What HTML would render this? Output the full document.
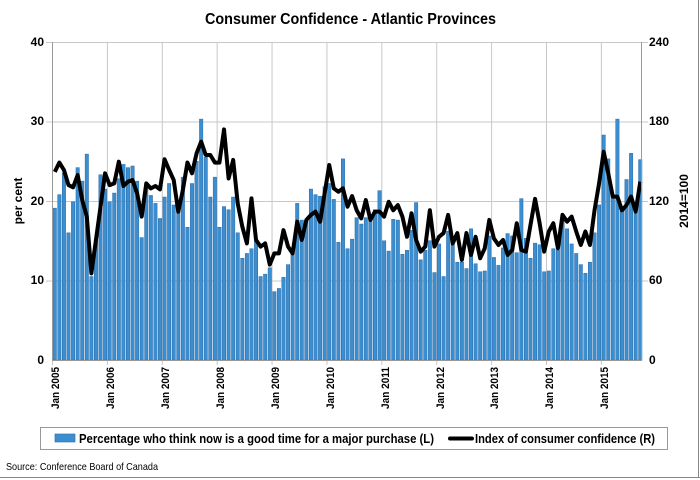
<!DOCTYPE html>
<html><head><meta charset="utf-8"><style>
html,body{margin:0;padding:0;background:#fff}
svg{display:block;font-family:"Liberation Sans",sans-serif}
</style></head><body>
<svg id="s" width="700" height="480" viewBox="0 0 700 480" xmlns="http://www.w3.org/2000/svg">
<rect x="0" y="0" width="700" height="480" fill="#fff"/>
<line x1="0" y1="477.5" x2="700" y2="477.5" stroke="#888" stroke-width="1"/>
<line x1="698.5" y1="0" x2="698.5" y2="478" stroke="#888" stroke-width="1"/>
<text x="205" y="24" font-size="16" font-weight="bold" fill="#000" textLength="291" lengthAdjust="spacingAndGlyphs">Consumer Confidence - Atlantic Provinces</text>
<g id="grid" stroke="#c8c8c8" stroke-width="1"></g>
<g id="bars"></g>
<polyline id="ln" fill="none" stroke="#000" stroke-width="4" stroke-linejoin="round"/>
<line x1="52.5" y1="42" x2="52.5" y2="360" stroke="#999"/>
<line x1="641.5" y1="42" x2="641.5" y2="360" stroke="#999"/>
<line x1="52" y1="360.5" x2="642" y2="360.5" stroke="#999"/>
<g font-size="12" font-weight="bold" fill="#000" text-anchor="end">
<text x="44" y="46">40</text><text x="44" y="125">30</text><text x="44" y="205">20</text><text x="44" y="284">10</text><text x="44" y="364">0</text>
</g>
<g font-size="12" font-weight="bold" fill="#000" text-anchor="start">
<text x="649" y="46">240</text><text x="649" y="125">180</text><text x="649" y="205">120</text><text x="649" y="284">60</text><text x="649" y="364">0</text>
</g>
<text transform="translate(22,201) rotate(-90)" text-anchor="middle" font-size="12" font-weight="bold">per cent</text>
<text transform="translate(688,201) rotate(-90)" text-anchor="middle" font-size="12" font-weight="bold">2014=100</text>
<g font-size="11" font-weight="bold">
<text transform="translate(59,409) rotate(-90)" textLength="42" lengthAdjust="spacingAndGlyphs">Jan 2005</text>
<text transform="translate(114,409) rotate(-90)" textLength="42" lengthAdjust="spacingAndGlyphs">Jan 2006</text>
<text transform="translate(169,409) rotate(-90)" textLength="42" lengthAdjust="spacingAndGlyphs">Jan 2007</text>
<text transform="translate(224,409) rotate(-90)" textLength="42" lengthAdjust="spacingAndGlyphs">Jan 2008</text>
<text transform="translate(279,409) rotate(-90)" textLength="42" lengthAdjust="spacingAndGlyphs">Jan 2009</text>
<text transform="translate(334,409) rotate(-90)" textLength="42" lengthAdjust="spacingAndGlyphs">Jan 2010</text>
<text transform="translate(389,409) rotate(-90)" textLength="42" lengthAdjust="spacingAndGlyphs">Jan 2011</text>
<text transform="translate(444,409) rotate(-90)" textLength="42" lengthAdjust="spacingAndGlyphs">Jan 2012</text>
<text transform="translate(498,409) rotate(-90)" textLength="42" lengthAdjust="spacingAndGlyphs">Jan 2013</text>
<text transform="translate(553,409) rotate(-90)" textLength="42" lengthAdjust="spacingAndGlyphs">Jan 2014</text>
<text transform="translate(608,409) rotate(-90)" textLength="42" lengthAdjust="spacingAndGlyphs">Jan 2015</text>
</g>
<rect x="40.5" y="427.5" width="627" height="22" fill="#fff" stroke="#999"/>
<rect x="55" y="434" width="20" height="8" fill="#3b8fd0" stroke="#2a6aa8" stroke-width="0.6"/>
<text x="79" y="443" font-size="13" font-weight="bold" textLength="355" lengthAdjust="spacingAndGlyphs">Percentage who think now is a good time for a major purchase (L)</text>
<line x1="450" y1="438.5" x2="472" y2="438.5" stroke="#000" stroke-width="4" stroke-linecap="round"/>
<text x="475" y="443" font-size="13" font-weight="bold" textLength="180" lengthAdjust="spacingAndGlyphs">Index of consumer confidence (R)</text>
<text x="6" y="470" font-size="10.5" textLength="152" lengthAdjust="spacingAndGlyphs">Source: Conference Board of Canada</text>
</svg>
<script>
var P=[19.1,20.8,23.5,16,19.9,24.2,22.5,25.9,10.5,15,23.3,21.5,19.9,21,22.8,24.6,24.2,24.4,22.5,15.4,22,20.7,19.7,17.8,20.5,22.2,19.5,18.9,23,16.7,22.2,25,30.3,25.5,20.5,23,16.7,19.3,18.9,20.5,16,12.8,13.4,14,15,10.5,10.8,11.6,8.6,9,10.4,12,13.4,19.7,17.6,17.6,21.5,20.8,20.6,21.8,22.2,20.2,14.8,25.3,14,15.2,17.9,17.1,17.9,17.6,18.9,21.3,15,13.7,17.7,17.6,13.3,13.8,16.3,19.8,12.6,13.8,15,11,14.6,10.5,16.2,14.5,12.3,12.3,11.5,16.5,12.1,11.1,11.2,15.6,12.9,11.9,14.1,15.9,15.6,13.5,20.3,15.3,12.8,14.7,14.5,11.1,11.2,14,13.8,17.6,16.5,14.6,13.4,12,10.9,12.3,16,19.5,28.3,25.3,20.5,30.3,19,22.7,26,19,25.2];
var L=[142,149,143.4,132,130.3,139.6,120.7,108.2,65.4,90.6,115.7,140.9,132,133.3,149.7,131.3,134.6,135.8,125.8,108.2,133.3,129.5,131.3,128.8,151.5,143.4,135.8,111.9,128.3,149,140.9,156,164.8,154.7,154.7,149,149,174,137,151,118,100.6,88,122,90.6,85.6,88,72,80.5,80.5,98,85.6,80.5,104.4,90.6,105.7,109.5,112,104.4,125.8,147.2,129.5,127,129.5,115.7,123.7,113,106.9,120.7,105.7,112,112,108.2,119.4,113,116.9,108.2,93,110.7,90.6,81.8,85.6,113,85.6,93,95.8,109.5,88,95.8,75.5,95.8,79.3,93,76.8,84.3,105.7,91.8,86.8,90.6,79.3,83,103.2,83,81.8,101.9,121.6,103.2,81.8,97,103.2,84.3,109.5,104.4,108.2,97,86.8,97,86.8,113,133.3,157.2,140.9,123.3,123.3,113,116.9,123.3,112,134.6];
var NS="http://www.w3.org/2000/svg",x0=52.5,w=4.574,b=document.getElementById('bars'),g=document.getElementById('grid');
function el(t,a,p){var e=document.createElementNS(NS,t);for(var k in a)e.setAttribute(k,a[k]);p.appendChild(e);return e;}
[42,121.5,201,280.5].forEach(function(y){el('line',{x1:46,x2:648,y1:y+.5,y2:y+.5},g)});
for(var yr=1;yr<=10;yr++){var xx=x0+yr*12*w;el('line',{x1:xx,x2:xx,y1:42,y2:365},g)}
el('line',{x1:x0,x2:x0,y1:360,y2:365},g);
var pts=[];
for(var i=0;i<P.length;i++){var cx=x0+(i+0.5)*w,h=P[i]*7.95;
el('rect',{x:(cx-1.7).toFixed(2),y:(360-h).toFixed(2),width:3.4,height:h.toFixed(2),fill:'#3b8fd0',stroke:'#2a6aa8','stroke-width':0.5},b);
pts.push(cx.toFixed(2)+','+(360-L[i]*318/240).toFixed(2));}
document.getElementById('ln').setAttribute('points',pts.join(' '));
</script>
</body></html>
